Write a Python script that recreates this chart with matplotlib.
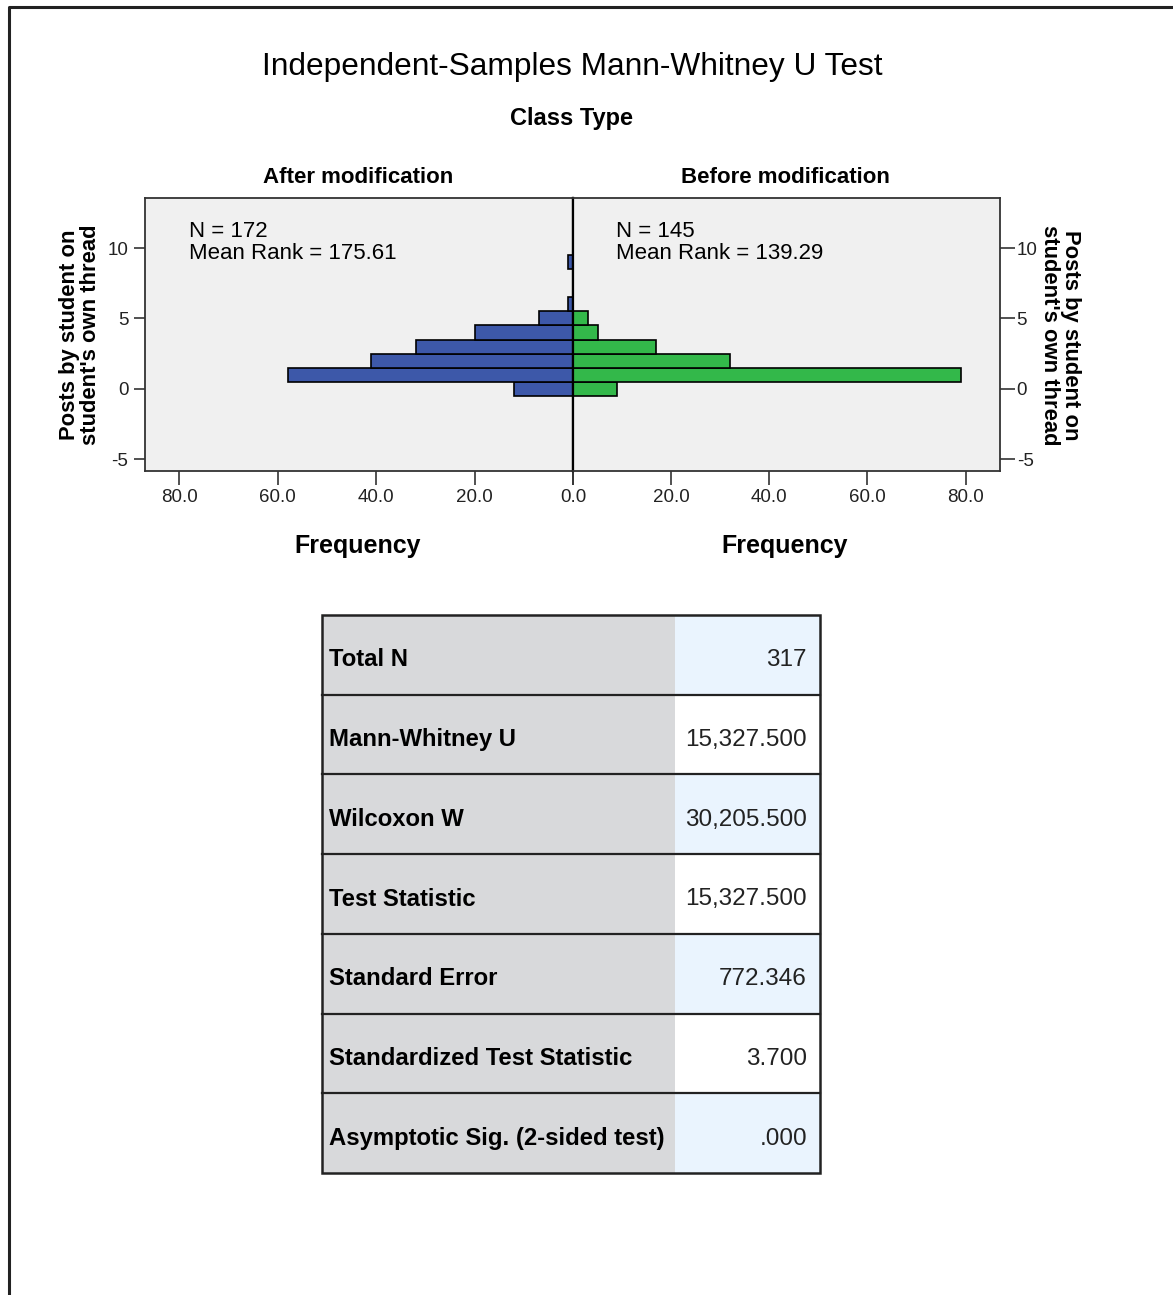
import matplotlib
matplotlib.use("Agg")
import matplotlib.pyplot as plt
from matplotlib.patches import Rectangle
import numpy as np

plt.rcParams["font.family"] = ["Liberation Sans", "DejaVu Sans"]
plt.rcParams["axes.unicode_minus"] = False

# posts on own thread (bin centres) and counts per group
posts = [-1, 0, 1, 2, 3, 4, 5, 6, 7, 8, 9]
after_counts = [0, 12, 58, 41, 32, 20, 7, 1, 0, 0, 1]
before_counts = [0, 9, 79, 32, 17, 5, 3, 0, 0, 0, 0]
groups = ["After modification", "Before modification"]
group_n = [172, 145]
mean_ranks = [175.61, 139.29]

# summary table
stat_names = ["Total N", "Mann-Whitney U", "Wilcoxon W", "Test Statistic",
              "Standard Error", "Standardized Test Statistic",
              "Asymptotic Sig. (2-sided test)"]
stat_values = ["317", "15,327.500", "30,205.500", "15,327.500",
               "772.346", "3.700", ".000"]

W, H = 1173, 1295
fig = plt.figure(figsize=(W / 100, H / 100), dpi=100)
fig.patch.set_facecolor("white")

blue = "#3d58a9"
green = "#33b84a"
bg = "#f0f0f0"

x0, xm, x1 = 145, 573, 1000
top, bot = 198, 471
ylo, yhi = -5.83, 13.55
xmax = 87

def fx(px):
    return px / W

def fy(py):
    return 1 - py / H

axL = fig.add_axes([fx(x0), fy(bot), fx(xm - x0), fy(top) - fy(bot)])
axR = fig.add_axes([fx(xm), fy(bot), fx(x1 - xm), fy(top) - fy(bot)], sharey=axL)

axL.barh(posts, after_counts, height=1.0, color=blue, edgecolor="black", lw=1.2)
axR.barh(posts, before_counts, height=1.0, color=green, edgecolor="black", lw=1.2)

axL.set_xlim(xmax, 0)
axR.set_xlim(0, xmax)
axL.set_ylim(ylo, yhi)

for ax in (axL, axR):
    ax.set_facecolor(bg)
    for s in ax.spines.values():
        s.set_color("#333333")
        s.set_linewidth(1.3)
    ax.tick_params(axis="both", labelsize=13.5, labelcolor="#222222",
                   width=1.2, color="#333333", direction="out")
    ax.tick_params(axis="x", length=10, pad=3)
    ax.tick_params(axis="y", length=8)
    ax.set_yticks([-5, 0, 5, 10])

axL.set_xticks([80, 60, 40, 20, 0])
axL.set_xticklabels(["80.0", "60.0", "40.0", "20.0", "0.0"])
axR.set_xticks([0, 20, 40, 60, 80])
axR.set_xticklabels(["", "20.0", "40.0", "60.0", "80.0"])
axL.spines["right"].set_linewidth(1.6)
axR.spines["left"].set_linewidth(1.6)
axL.spines["right"].set_color("black")
axR.spines["left"].set_color("black")
axR.tick_params(axis="y", left=False, labelleft=False, right=True,
                labelright=True, pad=1, length=11)
axL.tick_params(axis="y", pad=4)

# page overlay in pixel units, drawn above the histogram panels
page = fig.add_axes([0, 0, 1, 1])
page.set_xlim(0, W)
page.set_ylim(H, 0)
page.axis("off")
page.set_zorder(10)
page.plot([8.5, 8.5, W + 5], [H + 5, 6.5, 6.5], color="#222222", lw=2.2,
          solid_capstyle="butt")

page.text(572, 75, "Independent-Samples Mann-Whitney U Test", fontsize=22.8,
          ha="center", va="baseline")
page.text(572, 125, "Class Type", fontsize=17, fontweight="bold",
          ha="center", va="baseline")

# axis titles
ylab = "Posts by student on\nstudent's own thread"
page.text(80, 335, ylab, fontsize=15.8, fontweight="bold", rotation=90,
          ha="center", va="center", multialignment="center", linespacing=0.95)
page.text(1060, 335, ylab, fontsize=15.8, fontweight="bold", rotation=270,
          ha="center", va="center", multialignment="center", linespacing=0.95)

for cx, name in zip([358, 785], groups):
    page.text(cx, 182.7, name, fontsize=16, fontweight="bold",
              ha="center", va="baseline")
    page.text(cx, 553, "Frequency", fontsize=18, fontweight="bold",
              ha="center", va="baseline")

for tx, n, mr in zip([189, 616], group_n, mean_ranks):
    page.text(tx, 237, f"N = {n}", fontsize=16, ha="left", va="baseline")
    page.text(tx, 259, f"Mean Rank = {mr:.2f}", fontsize=16,
              ha="left", va="baseline")

# summary table
t_left, t_split, t_right = 322, 675, 820
t_top, t_bot = 615, 1173
row_h = (t_bot - t_top) / len(stat_names)
for i, (name, val) in enumerate(zip(stat_names, stat_values)):
    y = t_top + i * row_h
    page.add_patch(Rectangle((t_left, y), t_split - t_left, row_h,
                             facecolor="#d8d9db", edgecolor="none"))
    page.add_patch(Rectangle((t_split, y), t_right - t_split, row_h,
                             facecolor="#eaf4fe" if i % 2 == 0 else "white",
                             edgecolor="none"))
    base = y + row_h / 2 + 11.5
    page.text(t_left + 7, base, name, fontsize=17.2,
              fontweight="bold", ha="left", va="baseline")
    page.text(t_right - 13, base, val, fontsize=17.5,
              color="#222222", ha="right", va="baseline")
    if i > 0:
        page.plot([t_left, t_right], [y, y], color="#222222", lw=1.6)
page.add_patch(Rectangle((t_left, t_top), t_right - t_left, t_bot - t_top,
                         facecolor="none", edgecolor="#222222", lw=1.8))

fig.savefig("out.png", dpi=100)
